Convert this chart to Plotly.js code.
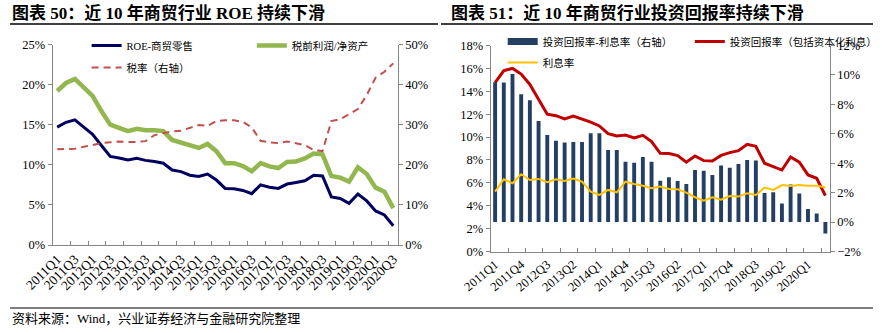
<!DOCTYPE html>
<html>
<head>
<meta charset="utf-8">
<script src="https://cdn.plot.ly/plotly-3.0.1.min.js"></script>
<style>html,body{margin:0;padding:0;background:#fff;}#chart{width:882px;height:333px;}</style>
</head>
<body>
<div id="chart"></div>
<script>
const quarters = ['2011Q1','2011Q2','2011Q3','2011Q4','2012Q1','2012Q2','2012Q3','2012Q4',
  '2013Q1','2013Q2','2013Q3','2013Q4','2014Q1','2014Q2','2014Q3','2014Q4',
  '2015Q1','2015Q2','2015Q3','2015Q4','2016Q1','2016Q2','2016Q3','2016Q4',
  '2017Q1','2017Q2','2017Q3','2017Q4','2018Q1','2018Q2','2018Q3','2018Q4',
  '2019Q1','2019Q2','2019Q3','2019Q4','2020Q1','2020Q2','2020Q3'];

// Chart 50 (left)
const roeRetail = [14.7,15.3,15.6,14.7,13.8,12.4,11.05,10.85,10.6,10.8,10.55,10.4,10.2,9.35,9.15,8.7,8.55,8.85,8.1,7.05,
  7.0,6.8,6.4,7.5,7.2,7.05,7.6,7.8,8.0,8.7,8.6,6.0,5.8,5.2,6.35,5.5,4.25,3.75,2.4];
const pretaxProfitToNetAssets = [19.2,20.2,20.7,19.6,18.6,16.7,15.0,14.6,14.2,14.5,14.3,14.3,14.2,13.1,12.8,12.5,12.1,12.6,11.7,10.2,
  10.2,9.85,9.2,10.2,9.8,9.6,10.35,10.4,10.8,11.4,11.3,8.6,8.4,7.9,9.7,8.85,7.15,6.65,4.6];
const taxRate = [23.9,24.0,24.0,24.5,24.9,25.4,25.6,25.8,25.7,25.7,25.9,27.4,27.9,28.3,28.5,29.3,29.9,29.7,30.9,31.1,
  31.1,30.7,29.3,26.0,25.6,25.4,25.8,25.4,24.9,23.7,23.4,30.9,31.4,32.6,33.9,37.4,41.7,43.2,45.3];

// Chart 51 (right)
const returnMinusInterest = [9.5,9.48,10.07,8.69,8.28,6.87,5.92,5.53,5.4,5.45,5.45,6.04,6.04,4.9,4.9,4.1,4.04,4.43,4.1,
  2.81,3.04,2.79,2.58,3.54,3.49,3.2,3.85,3.69,3.94,4.21,4.19,1.97,2.02,1.27,2.56,1.95,0.88,0.59,-0.77];
const investmentReturn = [14.76,15.8,16.0,15.5,14.6,13.3,12.0,11.87,11.58,11.84,11.58,11.3,10.97,10.3,10.1,10.18,9.92,10.15,9.6,
  8.58,8.56,8.38,7.8,8.35,7.94,7.91,8.4,8.64,8.81,9.37,9.2,7.71,7.42,7.12,8.26,7.8,6.69,6.4,4.88];
const interestRate = [5.23,6.31,5.96,6.75,6.25,6.34,6.05,6.31,6.16,6.37,6.1,5.23,4.94,5.38,5.17,6.1,5.9,5.75,5.52,
  5.67,5.46,5.43,5.14,4.74,4.44,4.74,4.53,4.85,4.8,5.09,4.94,5.58,5.38,5.81,5.73,5.81,5.75,5.75,5.61];

const titleLeft = '图表 50：近 10 年商贸行业 ROE 持续下滑';
const titleRight = '图表 51：近 10 年商贸行业投资回报率持续下滑';
const sourceNote = '资料来源：Wind，兴业证券经济与金融研究院整理';

const W = 882, H = 333;
const px = v => v / W;
const py = v => 1 - v / H;
const serif = 'Liberation Serif, Times New Roman, Noto Sans CJK SC, serif';
const legFont = {family: 'Liberation Serif, Noto Sans CJK SC, serif', size: 10.5, color: '#000'};
const axisGrey = '#868686';

const traces = [
  {x: quarters, y: roeRetail, type: 'scatter', mode: 'lines', name: 'ROE-商贸零售',
   line: {color: '#00005E', width: 3}, xaxis: 'x', yaxis: 'y', legend: 'legend', legendgroup: 'a'},
  {x: quarters, y: pretaxProfitToNetAssets, type: 'scatter', mode: 'lines', name: '税前利润/净资产',
   line: {color: '#92B74E', width: 4.5}, xaxis: 'x', yaxis: 'y', legend: 'legend2'},
  {x: quarters, y: taxRate, type: 'scatter', mode: 'lines', name: '税率（右轴）',
   line: {color: '#C0504D', width: 2, dash: '7px,5px'}, xaxis: 'x', yaxis: 'y2', legend: 'legend', legendgroup: 'b'},

  {x: quarters, y: returnMinusInterest, type: 'bar', name: '投资回报率-利息率（右轴）',
   marker: {color: '#243F63'}, xaxis: 'x2', yaxis: 'y4', showlegend: false},
  {x: [null], y: [null], type: 'scatter', mode: 'lines', name: '投资回报率-利息率（右轴）',
   line: {color: '#243F63', width: 7}, xaxis: 'x2', yaxis: 'y4', legend: 'legend3', legendgroup: 'c'},
  {x: quarters, y: investmentReturn, type: 'scatter', mode: 'lines', name: '投资回报率（包括资本化利息）',
   line: {color: '#C00000', width: 3}, xaxis: 'x2', yaxis: 'y3', legend: 'legend4'},
  {x: quarters, y: interestRate, type: 'scatter', mode: 'lines', name: '利息率',
   line: {color: '#FFC000', width: 2}, xaxis: 'x3', yaxis: 'y3', legend: 'legend3', legendgroup: 'd'}
];

const yTickFont = {family: serif, size: 12.5, color: '#000'};

const layout = {
  width: W, height: H,
  margin: {l: 0, r: 0, t: 0, b: 0},
  paper_bgcolor: '#fff', plot_bgcolor: 'rgba(0,0,0,0)',
  showlegend: true,
  bargap: 0.55,
  xaxis: {domain: [px(53), px(399.5)], anchor: 'y', type: 'category', categoryarray: quarters,
    dtick: 2, tickson: 'boundaries', ticks: 'inside', ticklen: 4, tickcolor: axisGrey,
    tickangle: -45, tickfont: {family: serif, size: 13.5, color: '#000'},
    showline: true, linecolor: axisGrey, linewidth: 1,
    showgrid: false, zeroline: false, range: [-0.5, 38.5]},
  yaxis: {domain: [py(245), py(44.5)], anchor: 'x', range: [0, 25], dtick: 5, ticksuffix: '%',
    ticks: 'outside', ticklen: 4, tickcolor: axisGrey, tickfont: yTickFont, showline: true,
    linecolor: axisGrey, showgrid: false, zeroline: false},
  yaxis2: {overlaying: 'y', side: 'right', anchor: 'x', range: [0, 50], dtick: 10, ticksuffix: '%',
    ticks: 'outside', ticklen: 4, tickcolor: axisGrey, tickfont: yTickFont, showline: true,
    linecolor: axisGrey, showgrid: false, zeroline: false},

  xaxis2: {domain: [px(493), px(833.5)], anchor: 'y3', type: 'category', categoryarray: quarters,
    dtick: 3, ticks: '', tickangle: -40, tickfont: {family: serif, size: 12.5, color: '#000'},
    showline: true, linecolor: axisGrey,
    showgrid: false, zeroline: false, range: [-0.5, 38.5]},
  xaxis3: {overlaying: 'x2', anchor: 'y3', type: 'category', categoryarray: quarters,
    dtick: 2, tickson: 'boundaries', ticks: 'inside', ticklen: 4, tickcolor: axisGrey,
    showticklabels: false, showgrid: false, zeroline: false, showline: false, range: [-0.5, 38.5]},
  yaxis3: {domain: [py(251.5), py(45.5)], anchor: 'x2', range: [0, 18], dtick: 2, ticksuffix: '%',
    ticks: 'outside', ticklen: 4, tickcolor: axisGrey, tickfont: yTickFont, showline: true,
    linecolor: axisGrey, showgrid: false, zeroline: false},
  yaxis4: {overlaying: 'y3', side: 'right', anchor: 'x2', range: [-2, 12], dtick: 2, ticksuffix: '%',
    ticks: 'outside', ticklen: 4, tickcolor: axisGrey, tickfont: yTickFont, showline: true,
    linecolor: axisGrey, showgrid: false, zeroline: false},

  legend: {x: px(87), y: py(31), xanchor: 'left', yanchor: 'top', orientation: 'v',
    font: legFont, bgcolor: 'rgba(0,0,0,0)', traceorder: 'grouped', tracegroupgap: 3},
  legend2: {x: px(253), y: py(31), xanchor: 'left', yanchor: 'top', font: legFont,
    bgcolor: 'rgba(0,0,0,0)'},
  legend3: {x: px(505), y: py(27), xanchor: 'left', yanchor: 'top', orientation: 'v',
    font: legFont, bgcolor: 'rgba(0,0,0,0)', traceorder: 'grouped', tracegroupgap: 2},
  legend4: {x: px(693), y: py(27), xanchor: 'left', yanchor: 'top', font: legFont,
    bgcolor: 'rgba(0,0,0,0)'},

  annotations: [
    {text: '<b>' + titleLeft + '</b>', xref: 'paper', yref: 'paper', x: px(10), y: py(13),
     xanchor: 'left', yanchor: 'middle', showarrow: false,
     font: {family: serif, size: 17, color: '#000'}},
    {text: '<b>' + titleRight + '</b>', xref: 'paper', yref: 'paper', x: px(451), y: py(13),
     xanchor: 'left', yanchor: 'middle', showarrow: false,
     font: {family: serif, size: 17, color: '#000'}},
    {text: sourceNote, xref: 'paper', yref: 'paper', x: px(10), y: py(318),
     xanchor: 'left', yanchor: 'middle', showarrow: false,
     font: {family: serif, size: 13, color: '#000'}}
  ],
  shapes: [
    {type: 'line', xref: 'paper', yref: 'paper', x0: px(10), x1: px(440), y0: py(24), y1: py(24),
     line: {color: '#000', width: 1.5}},
    {type: 'line', xref: 'paper', yref: 'paper', x0: px(443), x1: px(877), y0: py(24), y1: py(24),
     line: {color: '#000', width: 1.5}},
    {type: 'line', xref: 'paper', yref: 'paper', x0: px(10), x1: px(877), y0: py(308), y1: py(308),
     line: {color: '#000', width: 1.2}}
  ]
};

Plotly.newPlot('chart', traces, layout, {displayModeBar: false, staticPlot: true});
</script>
</body>
</html>
